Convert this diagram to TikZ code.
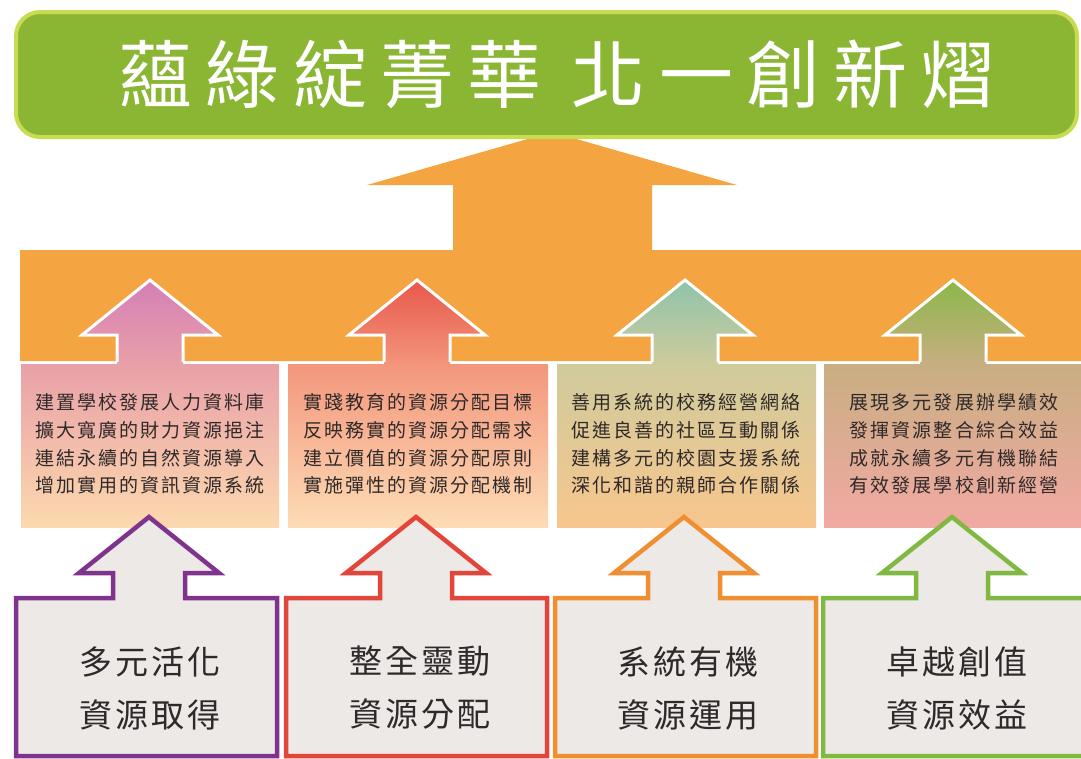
\documentclass[tikz,border=0pt]{standalone}
\usepackage{fontspec}
\newfontfamily\titlefont[LetterSpace=18]{Noto Sans CJK TC}
\newfontfamily\panelfont[LetterSpace=11]{Noto Sans CJK TC}
\newfontfamily\boxfont[LetterSpace=10]{Noto Sans CJK TC}

\definecolor{bandorange}{HTML}{F4A541}
\definecolor{titlegreen}{HTML}{8AB634}
\definecolor{titleedge}{HTML}{C8DC52}
\definecolor{boxgray}{HTML}{ECE9E7}
\definecolor{inktext}{HTML}{2F2929}
% arrow tops, panel tops, panel bottoms
\definecolor{headA}{HTML}{D47FB6}
\definecolor{headB}{HTML}{E8584B}
\definecolor{headC}{HTML}{8FC4AB}
\definecolor{headD}{HTML}{8BB849}
\definecolor{panelAT}{HTML}{E9A0A8}
\definecolor{panelBT}{HTML}{F3967C}
\definecolor{panelCT}{HTML}{CFCB9C}
\definecolor{panelDT}{HTML}{C8AE82}
\definecolor{panelAB}{HTML}{FCD9AE}
\definecolor{panelBB}{HTML}{FDDCB5}
\definecolor{panelCB}{HTML}{F8C68E}
\definecolor{panelDB}{HTML}{F2A9A3}
\definecolor{boxpurple}{HTML}{80338C}
\definecolor{boxred}{HTML}{E2453A}
\definecolor{boxorange}{HTML}{EF8F32}
\definecolor{boxgreen}{HTML}{80B842}

\tikzset{
  paneltext/.style={align=center, text=inktext, font={\panelfont\fontsize{19}{27.7}\selectfont}},
  boxtext/.style={align=center, text=inktext, font={\boxfont\fontsize{33}{53}\selectfont}}
}

\begin{document}
\begin{tikzpicture}[x=1pt,y=-1pt]
    \useasboundingbox (0,0) rectangle (1081,758);
    \clip (0,0) rectangle (1081,758);

    % Draw the big arrow with its band
    \fill[bandorange] (20,250) -- (453,250) -- (453,185) -- (367,185) -- (552,132) -- (737,185)
        -- (652,185) -- (652,250) -- (1081,250) -- (1081,361) -- (20,361) -- cycle;

    % Title
    \draw[line width=4pt, draw=titleedge, fill=titlegreen, rounded corners=24pt] (16,12) rectangle (1077,137);
    \node[text=white, font={\titlefont\fontsize{74}{80}\selectfont}] (title) at (557,74) {蘊綠綻菁華\hspace{30pt}北一創新熠};

    % Panels and small arrows
    \foreach \cx/\pl/\pr/\hc/\tc/\bc in {150/21/279/headA/panelAT/panelAB, 417/288/548/headB/panelBT/panelBB,
        685/557/816/headC/panelCT/panelCB, 953/824/1081/headD/panelDT/panelDB} {
        \shade[top color=\tc, bottom color=\bc] (\pl,364) rectangle (\pr,527);
        \shade[top color=\hc, bottom color=\tc] (\cx-33,366) -- (\cx-33,335) -- (\cx-68,335) -- (\cx,280)
            -- (\cx+68,335) -- (\cx+33,335) -- (\cx+33,366) -- cycle;
        \draw[white, line width=3pt] (\cx-33,362) -- (\cx-33,335) -- (\cx-68,335) -- (\cx,280)
            -- (\cx+68,335) -- (\cx+33,335) -- (\cx+33,362);
    }

    \node[paneltext] (ptxtA) at (150,444) {建置學校發展人力資料庫\\擴大寬廣的財力資源挹注\\連結永續的自然資源導入\\增加實用的資訊資源系統};
    \node[paneltext] (ptxtB) at (418,444) {實踐教育的資源分配目標\\反映務實的資源分配需求\\建立價值的資源分配原則\\實施彈性的資源分配機制};
    \node[paneltext] (ptxtC) at (686,444) {善用系統的校務經營網絡\\促進良善的社區互動關係\\建構多元的校園支援系統\\深化和諧的親師合作關係};
    \node[paneltext] (ptxtD) at (954,444) {展現多元發展辦學績效\\發揮資源整合綜合效益\\成就永續多元有機聯結\\有效發展學校創新經營};

    % Bottom boxes with outlined arrows
    \foreach \cx/\bl/\col in {149/14/boxpurple, 416/284/boxred, 684/553/boxorange, 952/821/boxgreen} {
        \draw[line width=4.5pt, draw=\col, fill=boxgray] (\bl+2,598) -- (\cx-36,598) -- (\cx-36,573) -- (\cx-70,573)
            -- (\cx,517) -- (\cx+70,573) -- (\cx+36,573) -- (\cx+36,598) -- (\bl+263,598) -- (\bl+263,756)
            -- (\bl+2,756) -- cycle;
    }

    \node[boxtext] (btxtA) at (150,688) {多元活化\\資源取得};
    \node[boxtext] (btxtB) at (420,688) {整全靈動\\資源分配};
    \node[boxtext] (btxtC) at (688,688) {系統有機\\資源運用};
    \node[boxtext] (btxtD) at (957,688) {卓越創值\\資源效益};
\end{tikzpicture}
\end{document}
